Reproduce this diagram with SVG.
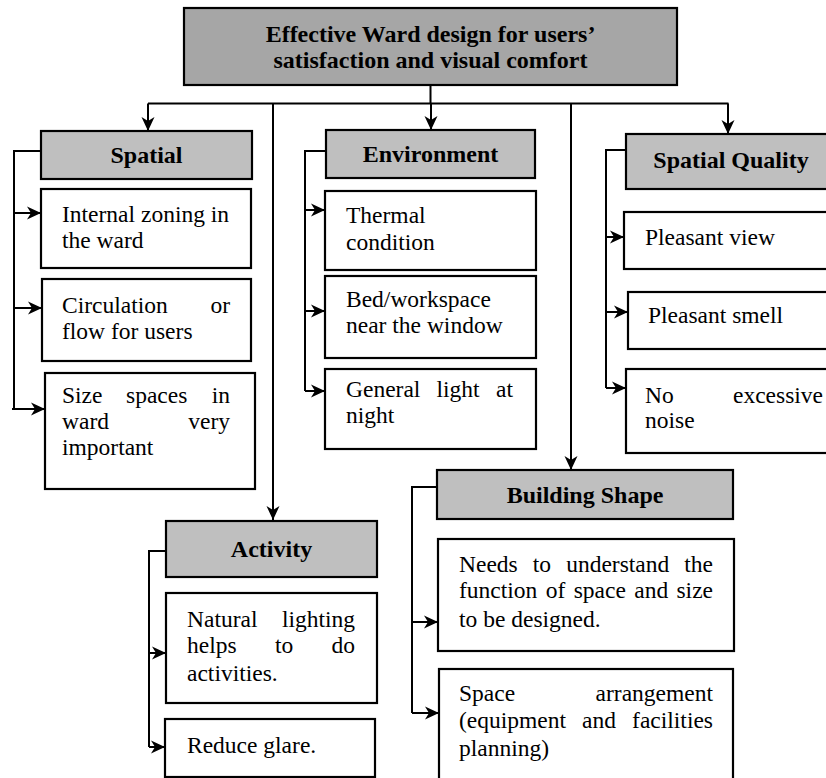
<svg xmlns="http://www.w3.org/2000/svg" width="826" height="778" viewBox="0 0 826 778">
<defs>
<marker id="ah" markerUnits="userSpaceOnUse" markerWidth="15" markerHeight="14" refX="14" refY="7" orient="auto">
<path d="M0,0.5 L14,7 L0,13.5 L4,7 Z" fill="#000"/>
</marker>
<style>
.box{fill:#fff;stroke:#000;stroke-width:2.2}
.hdr{fill:#bfbfbf;stroke:#000;stroke-width:2.2}
.ttl{fill:#a6a6a6;stroke:#000;stroke-width:2.2}
.b{font-family:"Liberation Serif","Times New Roman",serif;font-weight:bold;font-size:24px;fill:#000;text-anchor:middle}
.t{font-family:"Liberation Serif","Times New Roman",serif;font-size:23.5px;fill:#000}
.e{text-anchor:end}
.ln{fill:none;stroke:#000;stroke-width:2}
.ar{fill:none;stroke:#000;stroke-width:2;marker-end:url(#ah)}
</style>
</defs>
<rect width="826" height="778" fill="#fff"/>

<g id="connectors">
<path class="ln" d="M430.5,85 V103.5 M148,103.5 H728.5"/>
<path class="ar" d="M148,103.5 V131"/>
<path class="ar" d="M273,103.5 V520"/>
<path class="ar" d="M431,103.5 V130"/>
<path class="ar" d="M571,103.5 V470"/>
<path class="ar" d="M728,103.5 V134"/>
<path class="ln" d="M41,151 H14 V409 M12,409 H14"/>
<path class="ar" d="M14,213 H41"/>
<path class="ar" d="M14,308 H42"/>
<path class="ar" d="M12,409 H45"/>
<path class="ln" d="M326,151 H305 V391"/>
<path class="ar" d="M305,210 H325"/>
<path class="ar" d="M305,311 H325"/>
<path class="ar" d="M305,391 H325"/>
<path class="ln" d="M626,150 H606 V388"/>
<path class="ar" d="M606,237 H624"/>
<path class="ar" d="M606,312 H628"/>
<path class="ar" d="M606,388 H626"/>
<path class="ln" d="M166,551 H149 V747"/>
<path class="ar" d="M149,653 H166"/>
<path class="ar" d="M149,747 H165"/>
<path class="ln" d="M437,487 H412 V713"/>
<path class="ar" d="M412,622 H438"/>
<path class="ar" d="M412,713 H439"/>
</g>

<g id="title">
<rect class="ttl" x="184" y="8" width="493" height="77"/>
<text class="b" x="430.5" y="42">Effective Ward design for users’</text>
<text class="b" x="430.5" y="68">satisfaction and visual comfort</text>
</g>

<g id="spatial">
<rect class="hdr" x="41" y="131" width="211" height="48"/>
<text class="b" x="146.5" y="163">Spatial</text>
</g>
<g id="internal-zoning">
<rect class="box" x="41" y="189" width="210" height="79"/>
<text class="t" x="62" y="222">Internal zoning in</text>
<text class="t" x="62" y="248">the ward</text>
</g>
<g id="circulation">
<rect class="box" x="42" y="279" width="209" height="82"/>
<text class="t" x="62" y="313">Circulation</text>
<text class="t e" x="230" y="313">or</text>
<text class="t" x="62" y="339">flow for users</text>
</g>
<g id="size-spaces">
<rect class="box" x="45" y="373" width="210" height="116"/>
<text class="t" x="62" y="403">Size</text>
<text class="t" x="126" y="403">spaces</text>
<text class="t e" x="230" y="403">in</text>
<text class="t" x="62" y="429">ward</text>
<text class="t e" x="230" y="429">very</text>
<text class="t" x="62" y="455">important</text>
</g>

<g id="environment">
<rect class="hdr" x="326" y="130" width="209" height="48"/>
<text class="b" x="430.5" y="162">Environment</text>
</g>
<g id="thermal">
<rect class="box" x="325" y="191" width="211" height="79"/>
<text class="t" x="346" y="223">Thermal</text>
<text class="t" x="346" y="250">condition</text>
</g>
<g id="bed-workspace">
<rect class="box" x="325" y="276" width="211" height="82"/>
<text class="t" x="346" y="307">Bed/workspace</text>
<text class="t" x="346" y="333">near the window</text>
</g>
<g id="general-light">
<rect class="box" x="325" y="369" width="211" height="80"/>
<text class="t" x="346" y="397">General</text>
<text class="t" x="436.5" y="397">light</text>
<text class="t e" x="513" y="397">at</text>
<text class="t" x="346" y="423">night</text>
</g>

<g id="spatial-quality">
<rect class="hdr" x="626" y="134" width="210" height="55"/>
<text class="b" x="731" y="168">Spatial Quality</text>
</g>
<g id="pleasant-view">
<rect class="box" x="624" y="212" width="212" height="57"/>
<text class="t" x="645" y="245">Pleasant view</text>
</g>
<g id="pleasant-smell">
<rect class="box" x="628" y="292" width="210" height="57"/>
<text class="t" x="648" y="323">Pleasant smell</text>
</g>
<g id="no-noise">
<rect class="box" x="626" y="369" width="210" height="84"/>
<text class="t" x="645" y="403">No</text>
<text class="t e" x="823" y="403">excessive</text>
<text class="t" x="645" y="428">noise</text>
</g>

<g id="activity">
<rect class="hdr" x="166" y="521" width="211" height="56"/>
<text class="b" x="271.5" y="557">Activity</text>
</g>
<g id="natural-lighting">
<rect class="box" x="166" y="593" width="211" height="110"/>
<text class="t" x="187" y="627">Natural</text>
<text class="t e" x="355" y="627">lighting</text>
<text class="t" x="187" y="653">helps</text>
<text class="t" x="275" y="653">to</text>
<text class="t e" x="355" y="653">do</text>
<text class="t" x="187" y="681">activities.</text>
</g>
<g id="reduce-glare">
<rect class="box" x="165" y="719" width="210" height="58"/>
<text class="t" x="187" y="753">Reduce glare.</text>
</g>

<g id="building-shape">
<rect class="hdr" x="437" y="470" width="296" height="49"/>
<text class="b" x="585" y="503">Building Shape</text>
</g>
<g id="needs-understand">
<rect class="box" x="438" y="539" width="296" height="112"/>
<text class="t" x="459" y="572">Needs</text>
<text class="t" x="532.8" y="572">to</text>
<text class="t" x="566.2" y="572">understand</text>
<text class="t e" x="713" y="572">the</text>
<text class="t" x="459" y="598">function</text>
<text class="t" x="545.7" y="598">of</text>
<text class="t" x="573.7" y="598">space</text>
<text class="t" x="634.3" y="598">and</text>
<text class="t e" x="713" y="598">size</text>
<text class="t" x="459" y="627">to be designed.</text>
</g>
<g id="space-arrangement">
<rect class="box" x="439" y="669" width="294" height="130"/>
<text class="t" x="459" y="701">Space</text>
<text class="t e" x="713" y="701">arrangement</text>
<text class="t" x="459" y="728">(equipment</text>
<text class="t" x="582" y="728">and</text>
<text class="t e" x="713" y="728">facilities</text>
<text class="t" x="459" y="756">planning)</text>
</g>
</svg>
